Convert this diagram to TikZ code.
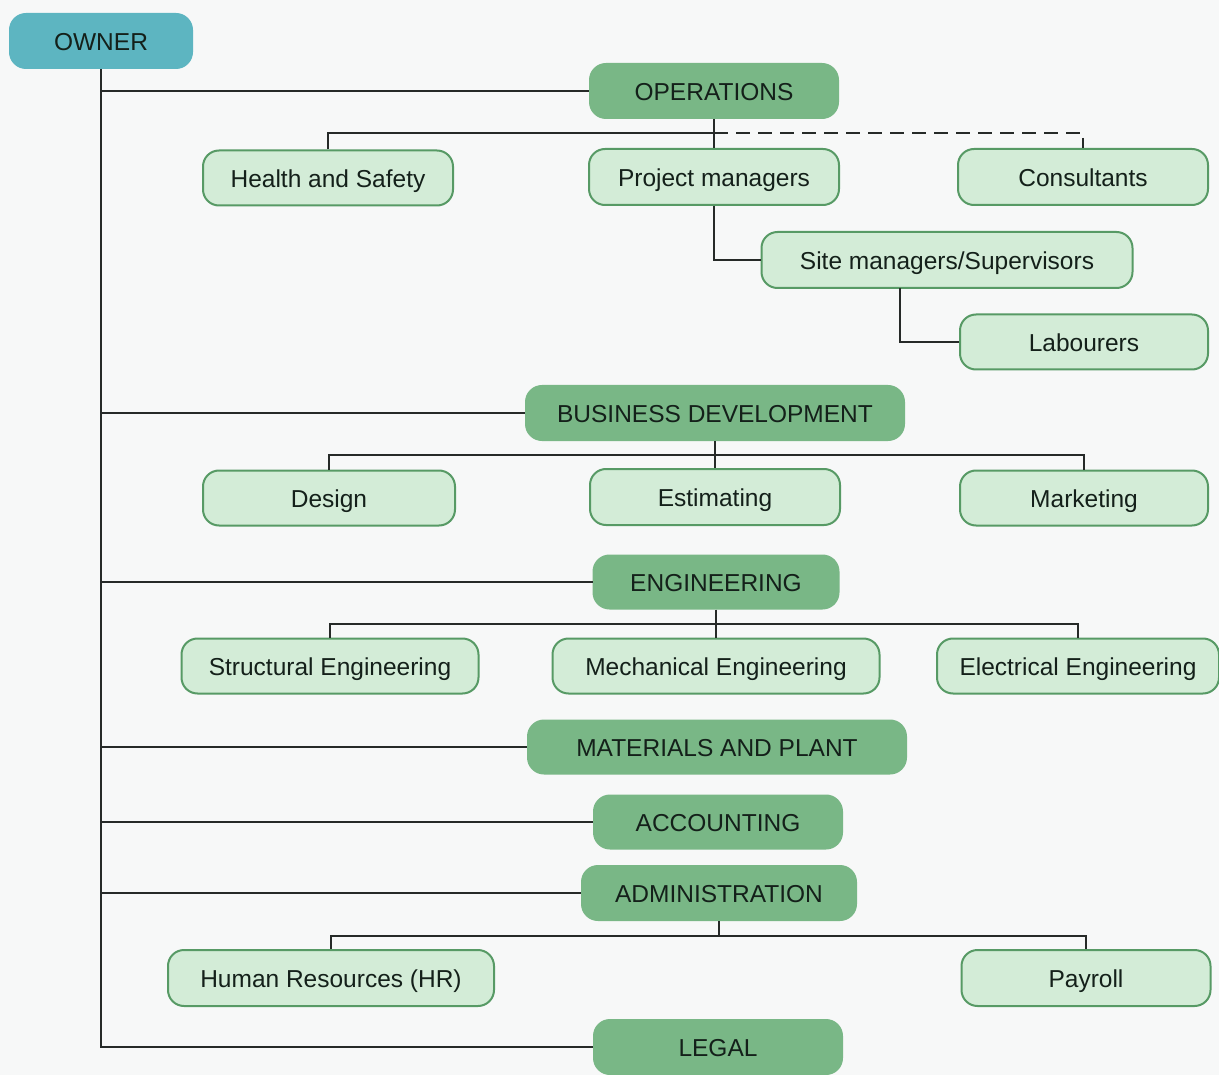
\documentclass[tikz,border=0pt]{standalone}
\usepackage{fontspec}
\setmainfont{Liberation Sans}
\begin{document}
\begin{tikzpicture}[x=1pt,y=-1pt]
\definecolor{bgc}{HTML}{F7F8F8}
\definecolor{ownerc}{HTML}{5DB5C1}
\definecolor{deptc}{HTML}{79B786}
\definecolor{subc}{HTML}{D3ECD7}
\definecolor{subline}{HTML}{579A65}
\definecolor{linec}{HTML}{262A28}
\definecolor{textc}{HTML}{14201A}
\tikzset{
  box/.style={rounded corners=16pt, line width=2pt, inner sep=0pt, text=textc,
              font=\fontsize{24.5}{28}\selectfont, text height=19pt, text depth=0pt, anchor=center},
  ownerbox/.style={box, fill=ownerc, draw=ownerc},
  deptbox/.style={box, fill=deptc, draw=deptc},
  subbox/.style={box, fill=subc, draw=subline},
  link/.style={line width=2.8pt, draw=linec},
  dlink/.style={link, dash pattern=on 14pt off 8pt}
}
\fill[bgc] (0,0) rectangle (1219,1075);
\useasboundingbox (0,0) rectangle (1219,1075);

% nodes
\node[ownerbox, minimum width=182pt, minimum height=54pt] (owner) at (101,41) {OWNER};
\node[deptbox, minimum width=248pt, minimum height=54pt] (ops) at (714,91) {OPERATIONS};
\node[subbox, minimum width=250pt, minimum height=55pt] (hs) at (328,178) {Health and Safety};
\node[subbox, minimum width=250pt, minimum height=56pt] (pm) at (714,177) {Project managers};
\node[subbox, minimum width=250pt, minimum height=56pt] (cons) at (1083,177) {Consultants};
\node[subbox, minimum width=371pt, minimum height=56pt] (site) at (947,260) {Site managers/Supervisors};
\node[subbox, minimum width=248pt, minimum height=55pt] (lab) at (1084,342) {Labourers};
\node[deptbox, minimum width=378pt, minimum height=54pt] (bd) at (715,413) {BUSINESS DEVELOPMENT};
\node[subbox, minimum width=252pt, minimum height=55pt] (des) at (329,498) {Design};
\node[subbox, minimum width=250pt, minimum height=56pt] (est) at (715,497) {Estimating};
\node[subbox, minimum width=248pt, minimum height=55pt] (mkt) at (1084,498) {Marketing};
\node[deptbox, minimum width=245pt, minimum height=53pt] (eng) at (716,582) {ENGINEERING};
\node[subbox, minimum width=297pt, minimum height=55pt] (str) at (330,666) {Structural Engineering};
\node[subbox, minimum width=327pt, minimum height=55pt] (mech) at (716,666) {Mechanical Engineering};
\node[subbox, minimum width=282pt, minimum height=55pt] (elec) at (1078,666) {Electrical Engineering};
\node[deptbox, minimum width=378pt, minimum height=53pt] (mat) at (717,747) {MATERIALS AND PLANT};
\node[deptbox, minimum width=248pt, minimum height=53pt] (acc) at (718,822) {ACCOUNTING};
\node[deptbox, minimum width=274pt, minimum height=54pt] (adm) at (719,893) {ADMINISTRATION};
\node[subbox, minimum width=326pt, minimum height=56pt] (hr) at (331,978) {Human Resources (HR)};
\node[subbox, minimum width=249pt, minimum height=56pt] (pay) at (1086,978) {Payroll};
\node[deptbox, minimum width=248pt, minimum height=54pt] (legal) at (718,1047) {LEGAL};

% trunk from owner
\draw[link] (owner.south) |- (legal.west);
\draw[link] (owner.south |- ops.west) -- (ops.west);
\draw[link] (owner.south |- bd.west) -- (bd.west);
\draw[link] (owner.south |- eng.west) -- (eng.west);
\draw[link] (owner.south |- mat.west) -- (mat.west);
\draw[link] (owner.south |- acc.west) -- (acc.west);
\draw[link] (owner.south |- adm.west) -- (adm.west);

% operations
\coordinate (opsbar) at (714,133);
\draw[link] (ops.south) -- (ops.south |- pm.north);
\draw[link] (hs.north) |- (opsbar);
\draw[dlink] (opsbar) -| (cons.north);
\draw[link] (pm.south) |- (site.west);
\coordinate (sitedrop) at (900,288);
\draw[link] (sitedrop) |- (lab.west);

% business development
\coordinate (bdbar) at (715,455);
\draw[link] (bd.south) -- (bd.south |- est.north);
\draw[link] (des.north) |- (bdbar) -| (mkt.north);

% engineering
\coordinate (engbar) at (716,624);
\draw[link] (eng.south) -- (eng.south |- mech.north);
\draw[link] (str.north) |- (engbar) -| (elec.north);

% administration
\coordinate (admbar) at (719,936);
\draw[link] (adm.south) -- (admbar);
\draw[link] (hr.north) |- (admbar) -| (pay.north);
\end{tikzpicture}
\end{document}
